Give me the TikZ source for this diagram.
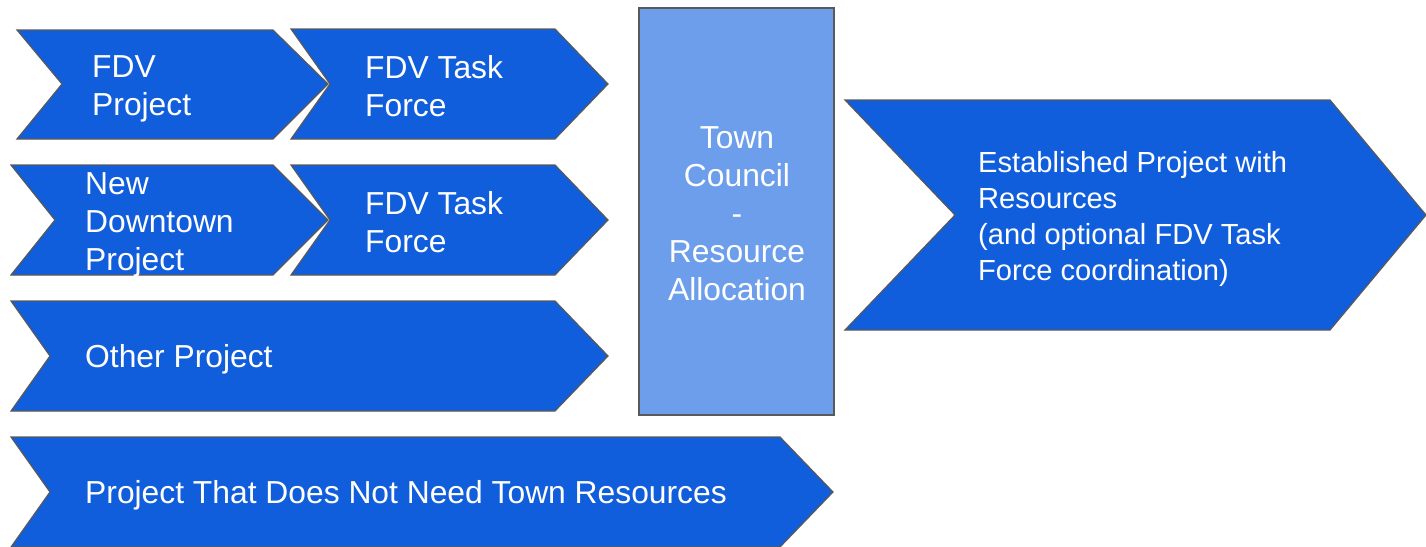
\documentclass[tikz,border=0pt]{standalone}
\usepackage{fontspec}
\setmainfont{Liberation Sans}
\definecolor{chevblue}{RGB}{17,94,221}
\definecolor{councilblue}{RGB}{109,158,235}
\definecolor{edgegray}{RGB}{89,89,89}
\begin{document}
\begin{tikzpicture}[x=1pt,y=-1pt,
  chev/.style={fill=chevblue,draw=edgegray,line width=1.2pt},
  lbl/.style={text=white,anchor=west,align=left,inner sep=0pt,font=\fontsize{31.8}{38}\selectfont},
  smalllbl/.style={lbl,font=\fontsize{29.1}{36}\selectfont}]
\useasboundingbox (0,0) rectangle (1426,546);
% left chevrons
\draw[chev] (17,30) -- (273,30) -- (328,84) -- (273,139) -- (17,139) -- (62,84) -- cycle;
\draw[chev] (291,29) -- (555,29) -- (608,84) -- (555,139) -- (291,139) -- (330,84) -- cycle;
\draw[chev] (11,165) -- (273,165) -- (328,220) -- (273,275) -- (11,275) -- (55,220) -- cycle;
\draw[chev] (291,165) -- (555,165) -- (608,220) -- (555,275) -- (291,275) -- (330,220) -- cycle;
\draw[chev] (11,301) -- (555,301) -- (608,356) -- (555,411) -- (11,411) -- (50,356) -- cycle;
\draw[chev] (11,437) -- (780,437) -- (833,492) -- (780,547) -- (11,547) -- (50,492) -- cycle;
% council box and result
\draw[fill=councilblue,draw=edgegray,line width=1.2pt] (639,8) rectangle (834,415);
\draw[chev] (845,100) -- (1330,100) -- (1426,215) -- (1330,330) -- (845,330) -- (955,215) -- cycle;
% labels
\node[lbl] (fdvproj) at (92,89) {FDV\\Project};
\node[lbl] (task1) at (365,86) {FDV Task\\Force};
\node[lbl] (newdt) at (85,225) {New\\Downtown\\Project};
\node[lbl] (task2) at (365,222) {FDV Task\\Force};
\node[lbl] (other) at (85,359) {Other Project};
\node[lbl] (noneed) at (85,495) {Project That Does Not Need Town Resources};
\node[lbl,anchor=center,align=center] (council) at (737,214) {Town\\Council\\-\\Resource\\Allocation};
\node[smalllbl] (estab) at (978,219) {Established Project with\\Resources\\(and optional FDV Task\\Force coordination)};
\end{tikzpicture}
\end{document}
